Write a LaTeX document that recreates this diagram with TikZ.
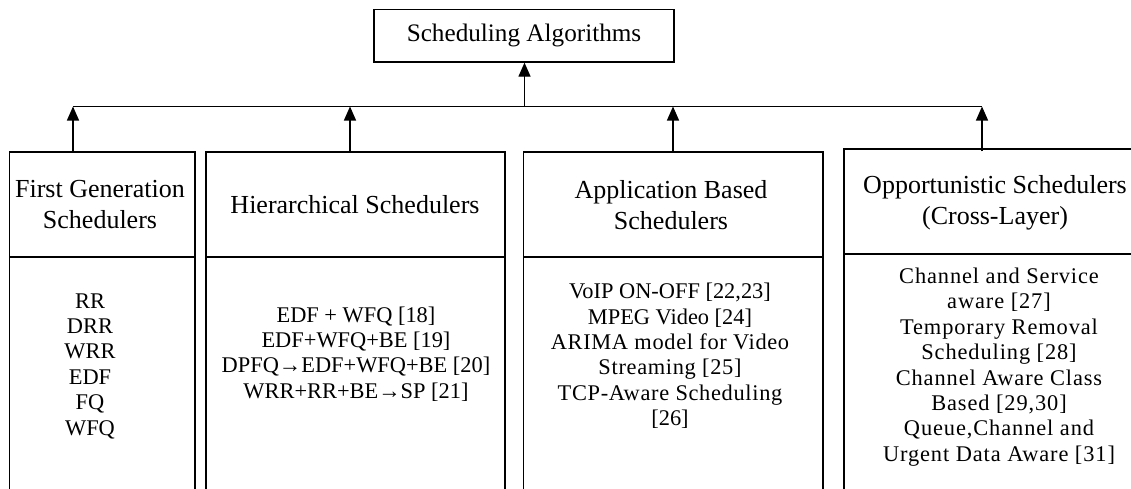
\documentclass[tikz,border=0pt]{standalone}
\usepackage{fontspec}
\setmainfont{Liberation Serif}
\usetikzlibrary{arrows.meta}
\newcommand\lspA{\addfontfeature{LetterSpace=3}}
\newcommand\lspB{\addfontfeature{LetterSpace=4}}
\begin{document}
\begin{tikzpicture}[x=1pt,y=-1pt,
  box/.style={draw, line width=1.3pt, inner sep=0pt},
  link/.style={line width=1.3pt},
  uparrow/.style={line width=1.3pt, -{Triangle[length=14pt,width=12pt]}},
  divider/.style={line width=1.3pt},
  head/.style={align=center, inner sep=0pt, font=\fontsize{26}{31}\selectfont},
  body/.style={align=center, inner sep=0pt, font=\fontsize{22.4}{25.4}\selectfont},
]
\useasboundingbox (0,0) rectangle (1131,488);
\clip (0,0) rectangle (1131,488);

\node[box, minimum width=300pt, minimum height=52.5pt, font=\fontsize{25.2}{30}\selectfont] (top) at (524,35.75) {Scheduling Algorithms};

\node[box, minimum width=185.5pt, minimum height=348pt] (b1) at (102.25,326) {};
\node[box, minimum width=299pt, minimum height=348pt] (b2) at (355.5,326) {};
\node[box, minimum width=299.5pt, minimum height=348pt] (b3) at (673.25,326) {};
\node[box, minimum width=303pt, minimum height=351pt] (b4) at (995.5,324.5) {};

\draw[divider] (9.5,257) -- (195,257);
\draw[divider] (206,257) -- (505,257);
\draw[divider] (523.5,257) -- (823,257);
\draw[divider] (844,254) -- (1147,254);

\coordinate (j0) at (524.5,106.5);
\coordinate (j1) at (73,106.5);
\coordinate (j2) at (350,106.5);
\coordinate (j3) at (673,106.5);
\coordinate (j4) at (982,106.5);

\draw[link] (j1) -- (j4);
\draw[uparrow] (j0) -- (top.south -| j0);
\draw[uparrow] (b1.north -| j1) -- (j1);
\draw[uparrow] (b2.north -| j2) -- (j2);
\draw[uparrow] (b3.north -| j3) -- (j3);
\draw[uparrow] ([yshift=-3pt]b4.north -| j4) -- (j4);

\node[head] (h1) at (100,205) {First Generation\\Schedulers};
\node[head] (h2) at (355,205) {Hierarchical Schedulers};
\node[head] (h3) at (671,205) {Application Based\\Schedulers};
\node[head] (h4) at (995,202.5) {Opportunistic Schedulers\\(Cross-Layer)};

\node[body] (t1) at (90,366) {RR\\DRR\\WRR\\EDF\\FQ\\WFQ};
\node[body] (t2) at (356,354) {EDF + WFQ [18]\\EDF+WFQ+BE [19]\\DPFQ→EDF+WFQ+BE [20]\\WRR+RR+BE→SP [21]};
\node[body] (t3) at (670,356) {VoIP ON-OFF [22,23]\\MPEG Video [24]\\{\lspA ARIMA model for Video}\\{\lspA Streaming [25]}\\{\lspA TCP-Aware Scheduling}\\\relax[26]};
\node[body, font=\fontsize{22.4}{25.4}\selectfont\lspB] (t4) at (999,367) {Channel and Service\\aware [27]\\Temporary Removal\\Scheduling [28]\\Channel Aware Class\\Based [29,30]\\Queue,Channel and\\Urgent Data Aware [31]};
\end{tikzpicture}
\end{document}
